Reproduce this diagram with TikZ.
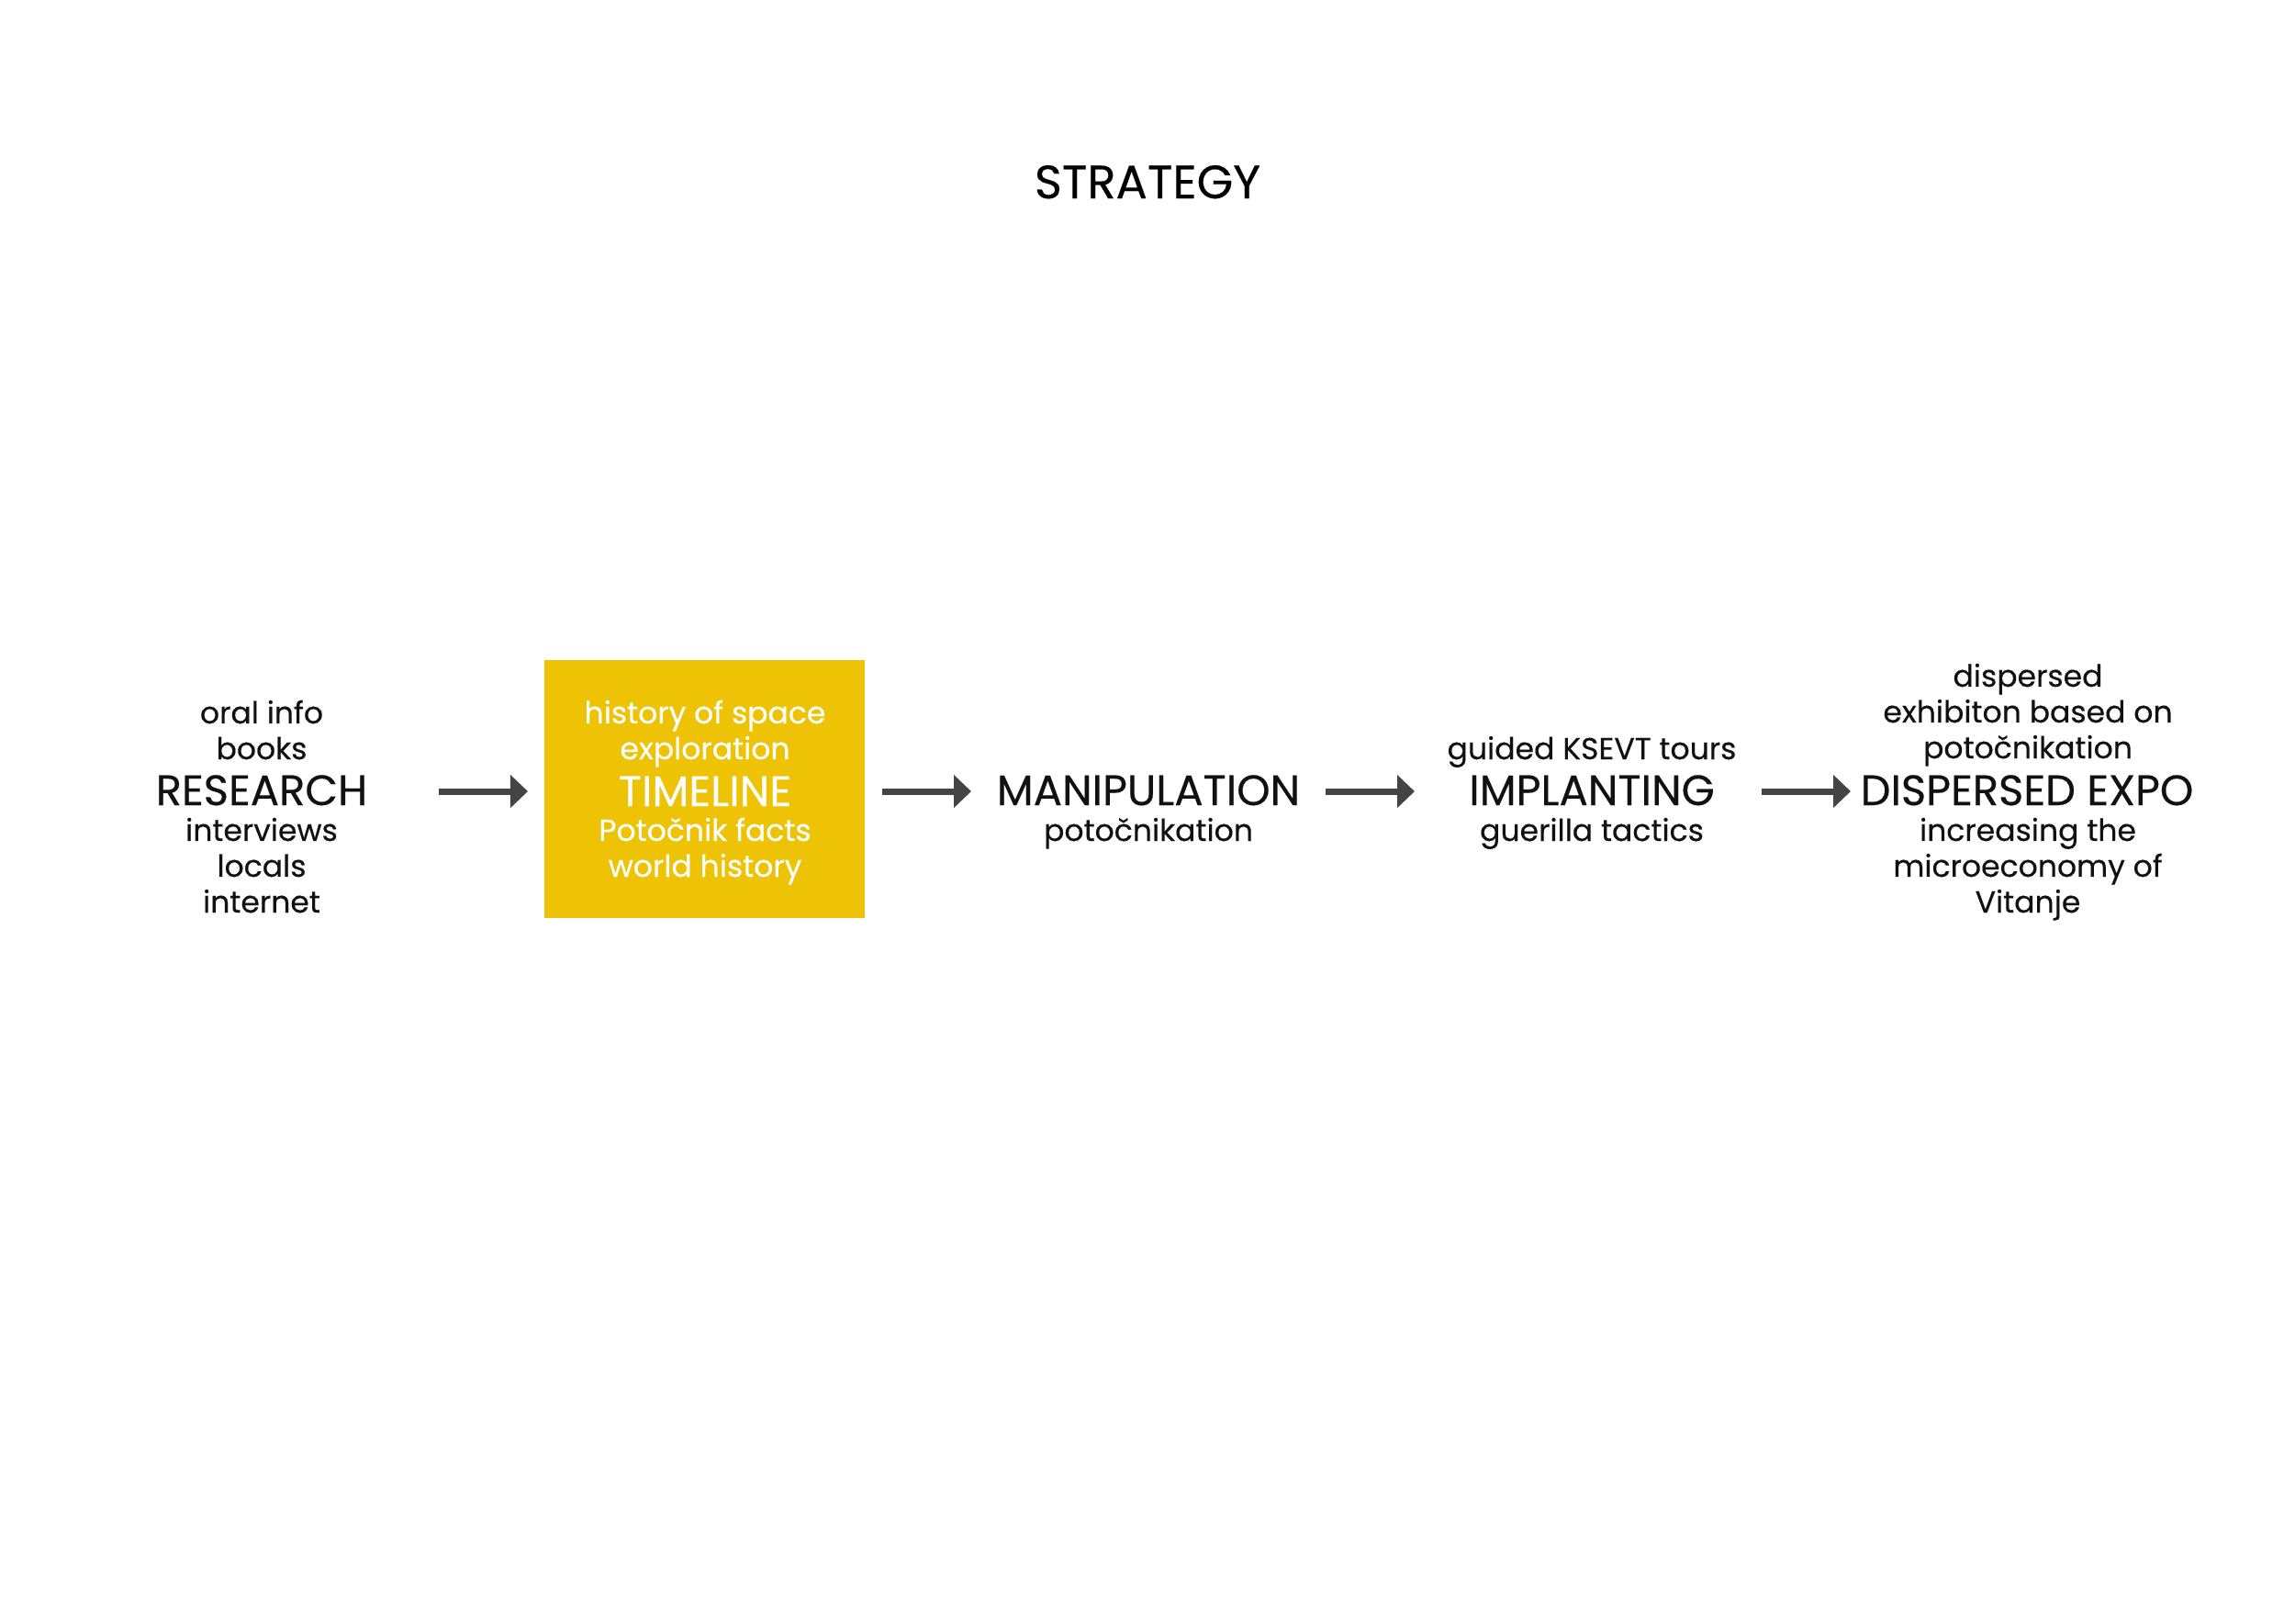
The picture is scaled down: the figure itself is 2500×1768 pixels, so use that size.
\documentclass[tikz,border=0pt]{standalone}
\usepackage{fontspec}
\setmainfont{Poppins}[FakeBold=0.35]
\usetikzlibrary{arrows.meta}
\definecolor{tlyellow}{RGB}{238,195,6}
\definecolor{arrowgray}{RGB}{68,68,68}
\definecolor{inkblack}{RGB}{17,17,17}
\tikzset{
  small/.style={font=\fontsize{9.4}{11.1}\selectfont, align=center, anchor=base, inner sep=0pt, text=inkblack},
  big/.style={font=\fontsize{13.2}{15}\selectfont, anchor=base, inner sep=0pt, text=inkblack},
  title/.style={font=\fontsize{14.5}{16}\selectfont, anchor=base, inner sep=0pt, text=black},
  onyellow/.style={text=white},
  flow/.style={draw=arrowgray, line width=2pt, -{Triangle[length=0.19cm, width=0.35cm]}},
  tlbox/.style={fill=tlyellow, draw=none, minimum width=3.49cm, minimum height=2.81cm, inner sep=0pt, anchor=north west}
}
\begin{document}
\begin{tikzpicture}[x=0.01cm, y=-0.01cm]
\useasboundingbox (0,0) rectangle (2500,1768);
\node[title] (ttl) at (1250,216) {STRATEGY};
% research (multi-line nodes are anchored at their last baseline)
\node[small] (rtop) at (285,827) {oral info\\books};
\node[big] (research) at (285,877) {RESEARCH};
\node[small] (rbot) at (285,994) {interviews\\locals\\internet};
% timeline
\node[tlbox] (box) at (592,718) {};
\node[small, onyellow] (ttop) at (768,827) {history of space\\exploration};
\node[big, onyellow] (timeline) at (768,878) {TIMELINE};
\node[small, onyellow] (tbot) at (768,955) {Poto\v{c}nik facts\\world history};
% manipulation
\node[big] (manip) at (1251,877) {MANIPULATION};
\node[small] (mbot) at (1251,916) {poto\v{c}nikation};
% implanting
\node[small] (itop) at (1734,827) {guided KSEVT tours};
\node[big] (implant) at (1734,877) {IMPLANTING};
\node[small] (ibot) at (1734,916) {guerilla tactics};
% dispersed
\node[small] (dtop) at (2209,826) {dispersed\\exhibiton based on\\poto\v{c}nikation};
\node[big] (disp) at (2208,877) {DISPERSED EXPO};
\node[small] (dbot) at (2209,994) {increasing the\\microeconomy of\\Vitanje};
% arrows
\coordinate (a1s) at (478,862); \coordinate (a1e) at (575,862);
\coordinate (a2s) at (961,862); \coordinate (a2e) at (1058,862);
\coordinate (a3s) at (1444,862); \coordinate (a3e) at (1541,862);
\coordinate (a4s) at (1919,862); \coordinate (a4e) at (2016,862);
\draw[flow] (a1s) -- (a1e);
\draw[flow] (a2s) -- (a2e);
\draw[flow] (a3s) -- (a3e);
\draw[flow] (a4s) -- (a4e);
\end{tikzpicture}
\end{document}
